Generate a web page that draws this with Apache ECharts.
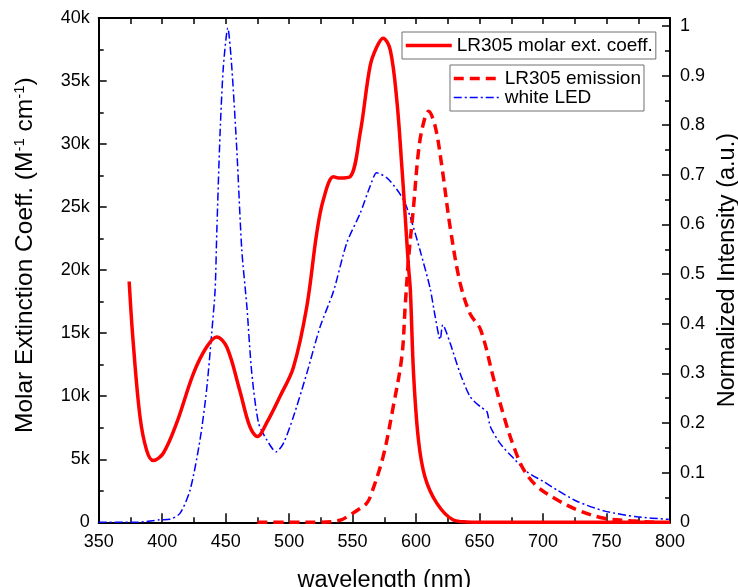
<!DOCTYPE html>
<html>
<head>
<meta charset="utf-8">
<script src="https://cdn.jsdelivr.net/npm/echarts@6/dist/echarts.min.js"></script>
<style>html,body{margin:0;padding:0;background:#fff}#c{width:738px;height:587px}</style>
</head>
<body>
<div id="c"></div>
<script>
const absWl = [374, 377, 382.5, 387.8, 393, 401, 411.5, 424.6, 435, 443, 450.9, 461, 469, 475, 482.4, 492.9, 503.4, 513.9, 521.7, 527, 535, 540, 548, 556, 563.8, 569, 574, 579.6, 584.8, 588.8, 591.4, 594, 595.5, 598, 601.9, 607, 616.4, 629, 640, 660, 700, 750, 800];
const absVal = [19100, 14500, 8400, 5700, 4900, 5500, 7900, 11800, 13900, 14700, 13900, 10500, 7600, 6800, 7900, 10000, 12300, 17100, 22900, 25600, 27400, 27300, 27400, 30900, 36200, 37700, 38400, 37500, 33500, 28200, 24300, 20300, 18400, 11800, 6500, 3600, 1500, 200, 30, 0, 0, 0, 0];

const emWl = [475, 500, 525, 540, 548, 556, 561, 564, 574, 582, 588.8, 591.4, 594, 598, 602, 605.8, 609.8, 615, 620.3, 626.8, 634.7, 642.6, 650.8, 661.3, 669.2, 677, 685, 695.5, 711.3, 727, 748, 769, 790];
const emVal = [0, 0, 0, 0.004, 0.015, 0.028, 0.038, 0.052, 0.132, 0.233, 0.334, 0.435, 0.529, 0.636, 0.75, 0.804, 0.828, 0.798, 0.717, 0.595, 0.482, 0.42, 0.388, 0.287, 0.213, 0.152, 0.105, 0.072, 0.045, 0.025, 0.008, 0.003, 0];

const ledWl = [350, 380, 398, 406, 414, 422, 429.8, 435, 439, 441.7, 443, 445.6, 448.2, 451.7, 454.8, 458.8, 462.7, 466.7, 470.6, 475.9, 482.4, 489.7, 495.5, 503.4, 513.9, 524.4, 534.9, 545.4, 556, 563.8, 569, 577, 585, 590, 595.3, 603, 611, 615, 619, 621, 626.8, 634.7, 642.6, 650.5, 655.8, 658.4, 666.2, 676.7, 687.2, 700.4, 711, 727, 748, 774, 799];
const ledVal = [0, 0, 0.005, 0.006, 0.018, 0.065, 0.166, 0.267, 0.381, 0.468, 0.583, 0.784, 0.918, 0.996, 0.918, 0.75, 0.549, 0.435, 0.30, 0.2, 0.166, 0.142, 0.159, 0.213, 0.30, 0.394, 0.465, 0.563, 0.623, 0.677, 0.704, 0.694, 0.67, 0.65, 0.616, 0.549, 0.472, 0.415, 0.368, 0.398, 0.361, 0.30, 0.253, 0.233, 0.223, 0.193, 0.159, 0.129, 0.102, 0.082, 0.065, 0.042, 0.023, 0.011, 0.006];

const xTicks = [350, 400, 450, 500, 550, 600, 650, 700, 750, 800];

const FONT = "'Liberation Sans', Arial, sans-serif";
const pairs = (xs, ys) => xs.map((x, i) => [x, ys[i]]);

const chart = echarts.init(document.getElementById('c'), null, {renderer: 'canvas'});
const axisLine = {show: true, onZero: false, lineStyle: {color: '#000', width: 2}};
const legendCommon = {
  orient: 'vertical', itemGap: 0, itemWidth: 46, itemHeight: 19,
  borderColor: '#707070', borderWidth: 1, backgroundColor: '#fff',
  textStyle: {fontFamily: FONT, fontSize: 19, color: '#000'},
  lineStyle: {width: 'inherit'},
  itemStyle: {opacity: 0, borderWidth: 0}
};
chart.setOption({
  animation: false,
  backgroundColor: '#fff',
  grid: {left: 98.7, right: 68, top: 18, bottom: 64.7, containLabel: false, outerBoundsMode: 'none'},
  legend: [
    Object.assign({}, legendCommon, {
      data: ['LR305 molar ext. coeff.'],
      left: 402, top: 32, padding: [4, 3, 4, 2]
    }),
    Object.assign({}, legendCommon, {
      data: ['LR305 emission', 'white LED'],
      left: 450, top: 65, padding: [4, 3, 4, 2]
    })
  ],
  xAxis: [
    {
      type: 'value', min: 350, max: 800, interval: 50, position: 'bottom',
      name: 'wavelength (nm)', nameLocation: 'middle', nameGap: 46,
      nameTextStyle: {fontFamily: FONT, fontSize: 23.5, color: '#000'},
      axisLine: axisLine,
      axisTick: {inside: true, length: 9, lineStyle: {color: '#000', width: 1.5}},
      minorTick: {show: true, splitNumber: 2, length: 5, lineStyle: {color: '#000', width: 1.5}},
      axisLabel: {fontFamily: FONT, fontSize: 18, color: '#000', margin: 11,
        formatter: v => xTicks.includes(v) ? String(v) : ''},
      splitLine: {show: false}
    },
    {
      type: 'value', min: 350, max: 800, interval: 50, position: 'top',
      axisLine: axisLine,
      axisTick: {inside: true, length: 6, lineStyle: {color: '#000', width: 1.5}},
      minorTick: {show: true, splitNumber: 2, length: 6, lineStyle: {color: '#000', width: 1.5}},
      axisLabel: {show: false},
      splitLine: {show: false}
    }
  ],
  yAxis: [
    {
      type: 'value', min: 0, max: 40000, interval: 5000, position: 'left',
      name: '{t|Molar Extinction Coeff. (M}{s|-1}{t| cm}{s|-1}{t|)}',
      nameLocation: 'middle', nameGap: 61, nameRotate: 90,
      nameTextStyle: {fontFamily: FONT, fontSize: 24.5, color: '#000', padding: [0, 0, 0, 30],
        rich: {
          t: {fontFamily: FONT, fontSize: 24.5, color: '#000'},
          s: {fontFamily: FONT, fontSize: 15, color: '#000', verticalAlign: 'top'}
        }},
      axisLine: axisLine,
      axisTick: {inside: true, length: 8, lineStyle: {color: '#000', width: 1.5}},
      minorTick: {show: true, splitNumber: 2, length: 5, lineStyle: {color: '#000', width: 1.5}},
      axisLabel: {fontFamily: FONT, fontSize: 18, color: '#000', margin: 9,
        formatter: v => v === 0 ? '0' : (v / 1000) + 'k'},
      splitLine: {show: false}
    },
    {
      type: 'value', min: 0, max: 1.016, interval: 0.1, position: 'right',
      name: 'Normalized Intensity (a.u.)',
      nameLocation: 'middle', nameGap: 45, nameRotate: 90,
      nameTextStyle: {fontFamily: FONT, fontSize: 23.5, color: '#000'},
      axisLine: axisLine,
      axisTick: {inside: true, length: 8, lineStyle: {color: '#000', width: 1.5}},
      minorTick: {show: true, splitNumber: 2, length: 5, lineStyle: {color: '#000', width: 1.5}},
      axisLabel: {fontFamily: FONT, fontSize: 18, color: '#000', margin: 10,
        showMaxLabel: false,
        formatter: v => v > 1.001 ? '' : String(Math.round(v * 10) / 10)},
      splitLine: {show: false}
    }
  ],
  series: [
    {
      name: 'white LED', type: 'line', xAxisIndex: 0, yAxisIndex: 1,
      data: pairs(ledWl, ledVal), symbol: 'none', smooth: 0.25,
      lineStyle: {color: '#0000FF', width: 1.5, type: [8, 3, 2, 3]},
      itemStyle: {color: '#0000FF'}, z: 2
    },
    {
      name: 'LR305 molar ext. coeff.', type: 'line', xAxisIndex: 0, yAxisIndex: 0,
      data: pairs(absWl, absVal), symbol: 'none', smooth: 0.35,
      lineStyle: {color: '#FF0000', width: 3.5, type: 'solid'},
      itemStyle: {color: '#FF0000'}, z: 3
    },
    {
      name: 'LR305 emission', type: 'line', xAxisIndex: 0, yAxisIndex: 1,
      data: pairs(emWl, emVal), symbol: 'none', smooth: 0.35,
      lineStyle: {color: '#FF0000', width: 3.5, type: [10, 6]},
      itemStyle: {color: '#FF0000'}, z: 3
    }
  ]
});
</script>
</body>
</html>
